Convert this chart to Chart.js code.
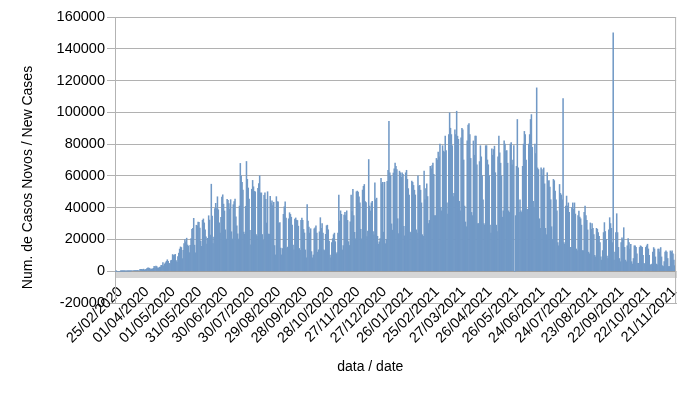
<!DOCTYPE html>
<html lang="pt">
<head>
<meta charset="UTF-8">
<title>Casos Novos / New Cases</title>
<script src="https://cdn.jsdelivr.net/npm/chart.js"></script>
<style>
  html, body { margin: 0; padding: 0; background: #fff; }
  #wrap { width: 694px; height: 394px; }
</style>
</head>
<body>
<div id="wrap"><canvas id="casesChart"></canvas></div>
<script>
// a date label is shown on every 30th category
const tickLabels = ['25/02/2020', '01/04/2020', '01/05/2020', '31/05/2020', '30/06/2020', '30/07/2020',
  '29/08/2020', '28/09/2020', '28/10/2020', '27/11/2020', '27/12/2020', '26/01/2021', '25/02/2021',
  '27/03/2021', '26/04/2021', '26/05/2021', '24/06/2021', '24/07/2021', '23/08/2021', '22/09/2021',
  '22/10/2021', '21/11/2021'];

// daily new cases (weekly rows start on a Sunday)
const newCases2020 = [
  0, 1, 0, 0, 0, 0, 6, 6, 12, 7, 12, 25, 21, 23, 79, 34, 57, 137, 193, 283,
  299, 340, 344, 434, 432, 487, 352, 323, 1138, 1119, 1208, 1012, 1304, 770,
  1031, 1138, 1832, 2210, 1930, 1781, 1089,
  1442, 1261, 1832, 3058, 2105, 3257, 2917,
  2088, 1927, 2498, 2678, 3735, 3503, 5514,
  3379, 4613, 5385, 6276, 7218, 6209, 4970,
  4588, 6633, 6935, 10503, 9888, 10222, 10611,
  6760, 5632, 9258, 11385, 13944, 15305, 14919,
  7938, 13140, 17408, 19951, 18508, 20803, 16508,
  15813, 11687, 16324, 20599, 26417, 26928, 33274,
  16409, 11598, 28936, 28633, 30925, 30830, 27075,
  18912, 15654, 32091, 32913, 30412, 25982, 21704,
  17110, 20647, 34918, 32188, 22765, 54771, 34666,
  17459, 21432, 39436, 42725, 39483, 46860, 38693,
  30476, 24052, 33846, 46712, 48105, 42223, 37923,
  26051, 20229, 45305, 44571, 42619, 39023, 45048,
  24831, 20286, 41857, 43829, 45403, 34177, 28532,
  23529, 20257, 41008, 67860, 59961, 55891, 51147,
  24578, 23284, 40816, 69074, 57837, 52383, 45392,
  25800, 16641, 51603, 57152, 53139, 50230, 49970,
  23010, 22048, 52160, 55155, 60091, 49298, 49274,
  23101, 19373, 47784, 49298, 45323, 30355, 50032,
  23421, 23284, 47134, 42659, 44235, 41350, 43412,
  16158, 10273, 46934, 43773, 43718, 30168, 30571,
  14521, 10273, 14279, 35816, 40557, 43718, 33523,
  14768, 15155, 33000, 36820, 35757, 34000, 29000,
  16389, 13439, 32817, 33536, 32129, 31911, 28378,
  14318, 13155, 32058, 33413, 32058, 26310, 24062,
  13399, 8456, 41906, 31553, 27750, 24062, 26749,
  12342, 8429, 10220, 26749, 27235, 28523, 24062,
  11976, 13493, 24818, 33700, 26981, 30026, 24062,
  13493, 13016, 23227, 28629, 29000, 26106, 18947,
  10100, 8501, 18000, 20500, 23000, 24000, 18600,
  10917, 11679, 23973, 48000, 31600, 38000, 35800,
  13371, 16207, 35294, 37000, 35000, 38000, 32000,
  18615, 16207, 31100, 47898, 37614, 51500, 35000,
  24468, 20430, 50000, 50434, 49863, 46884, 43000,
  26363, 20371, 51088, 53453, 54600, 43900, 43225,
  21825, 25193, 70300, 41000, 37900, 43000, 44000,
  25019, 22967, 55700, 45000, 46000, 22000, 17000,
  18479, 20548, 58400, 55000, 56000
];
const newCases2021 = [
  24605, 56000,
  17341, 20006, 56648, 63430, 94400, 62000, 60000,
  29792, 25822, 61804, 64385, 68138, 66000, 64000,
  33040, 23671, 63000, 62000, 59119, 62000, 61000,
  28323, 22272, 61963, 63520, 57800, 52000, 48000,
  24591, 24133, 56700, 56000, 54000, 51000, 48000,
  26000, 24000, 60000, 53600, 54000, 51000, 43000,
  23000, 22000, 63000, 45000, 52000, 55000, 47000,
  30000, 32000, 66000, 64500, 66500, 68000, 61000,
  35000, 35000, 71000, 70000, 75000, 72000, 80000,
  40000, 38000, 79000, 75600, 75000, 85000, 76000,
  43000, 36000, 86000, 99700, 90000, 86000, 79000,
  47000, 49000, 89000, 86000, 100700, 85000, 83000,
  44000, 38000, 84000, 90000, 89000, 70000, 41000,
  31000, 28000, 82000, 92000, 93000, 86000, 71000,
  37000, 35000, 82000, 73000, 85000, 85000, 67000,
  30000, 30000, 69000, 79000, 72000, 60000, 45000,
  30000, 29000, 79000, 79000, 70000, 67000, 60000,
  29000, 24000, 77000, 73000, 76600, 78700, 62000,
  29000, 25000, 72000, 85000, 74500, 68000, 60000,
  34000, 38000, 82000, 80000, 75600, 76000, 68000,
  38000, 37000, 80000, 81000, 67000, 70000, 79000,
  0, 35000, 66000, 95500, 65000, 37000, 45000,
  38000, 37000, 66000, 80000, 88000, 86000, 70000,
  39000, 39000, 80000, 86000, 95500, 98600, 78000,
  44000, 40000, 80000, 74000, 115400, 65000, 64000,
  33000, 27000, 65000, 64000, 60000, 65000, 55000,
  27000, 23000, 62000, 56700, 57000, 53000, 45000,
  28000, 20000, 57800, 57000, 50500, 45000, 38000,
  18000, 16000, 54600, 49000, 48000, 45000, 108700,
  18000, 17000, 41000, 47300, 41000, 43000, 37000,
  15000, 15000, 40000, 43000, 39000, 43000, 36000,
  14000, 13000, 35000, 37900, 34000, 33000, 29000,
  13000, 13000, 37000, 41000, 35000, 32000, 26000,
  12000, 11000, 30400, 26400, 30000, 27000, 23000,
  10000, 9000, 27000, 26400, 24300, 22000, 18000,
  9000, 7000, 13000, 24300, 30600, 25000, 20000,
  9500, 8000, 26000, 33700, 30000, 27000, 18000,
  150100, 7000, 12000, 24300, 36200, 24300, 15000,
  8000, 6000, 18000, 21000, 20000, 27400, 15000,
  7000, 6000, 16000, 20500, 18000, 14000, 17000,
  6000, 4500, 8000, 16000, 16000, 15000, 11000,
  5000, 5000, 15000, 16000, 15500, 15000, 10000,
  5000, 4500, 15000, 16000, 17000, 14000, 10000,
  4000, 4000, 4500, 12000, 14900, 14000, 9000,
  4500, 4000, 13900, 14000, 12000, 14900, 9000,
  3500, 3000, 6000, 12000, 12800, 12000, 8000,
  3000, 3000, 12800, 12000, 12800, 11000, 7000,
  3500, 10700
];

const newCases = newCases2020.concat(newCases2021);
const dayIndex = newCases.map((v, i) => i);

Chart.defaults.font.family = "'Liberation Sans', Arial, sans-serif";
Chart.defaults.font.size = 14;
Chart.defaults.color = '#000';

// right edge of the plot frame
const plotFrame = {
  id: 'plotFrame',
  afterDraw(chart) {
    const { ctx, chartArea } = chart;
    ctx.save();
    ctx.strokeStyle = '#b3b3b3';
    ctx.lineWidth = 1;
    ctx.beginPath();
    ctx.moveTo(chartArea.right - 0.5, chartArea.top);
    ctx.lineTo(chartArea.right - 0.5, chartArea.bottom);
    ctx.stroke();
    ctx.restore();
  }
};

const nbsp = '\u00a0';

new Chart(document.getElementById('casesChart'), {
  type: 'bar',
  data: {
    labels: dayIndex,
    datasets: [{
      label: 'Casos Novos / New Cases',
      data: newCases,
      backgroundColor: '#7199c6',
      borderWidth: 0,
      barPercentage: 1,
      categoryPercentage: 1
    }]
  },
  options: {
    responsive: true,
    maintainAspectRatio: false,
    animation: false,
    layout: { padding: { top: 17, right: 9, left: 0, bottom: 0 } },
    plugins: {
      legend: { display: false },
      tooltip: { enabled: false }
    },
    scales: {
      x: {
        offset: true,
        ticks: { display: false },
        grid: { drawOnChartArea: false, drawTicks: false },
        border: { color: '#b3b3b3' },
        title: {
          display: true,
          text: 'data / date' + nbsp.repeat(13),
          padding: { top: 0, bottom: 18 }
        },
        afterFit: scale => { scale.height = 91; }
      },
      // category tick marks hanging from the zero line
      xComb: {
        type: 'category',
        position: { y: 0 },
        offset: true,
        ticks: { display: false },
        grid: { drawOnChartArea: false, tickLength: 7, color: '#d6d6d6', offset: true },
        border: { display: false }
      },
      // date labels, also hanging from the zero line
      xDates: {
        type: 'category',
        position: { y: 0 },
        offset: true,
        grid: { display: false, drawTicks: false },
        border: { display: false },
        ticks: {
          autoSkip: false,
          maxRotation: 45,
          minRotation: 45,
          padding: 12,
          labelOffset: 5,
          font: { size: 14.5 },
          callback: (value, index) => index % 30 === 0 ? tickLabels[index / 30] : null
        }
      },
      y: {
        min: -20000,
        max: 160000,
        z: 1,
        ticks: { stepSize: 20000, padding: 2, font: { size: 14.5 }, callback: value => String(value) },
        grid: { color: 'rgba(100,100,100,0.5)', tickLength: 8 },
        border: { color: '#b3b3b3' },
        title: {
          display: true,
          text: 'Num. de Casos Novos / New Cases' + nbsp.repeat(9),
          padding: { top: 20, bottom: 0 }
        },
        afterFit: scale => { scale.width = 115; }
      }
    }
  },
  plugins: [plotFrame]
});
</script>
</body>
</html>
